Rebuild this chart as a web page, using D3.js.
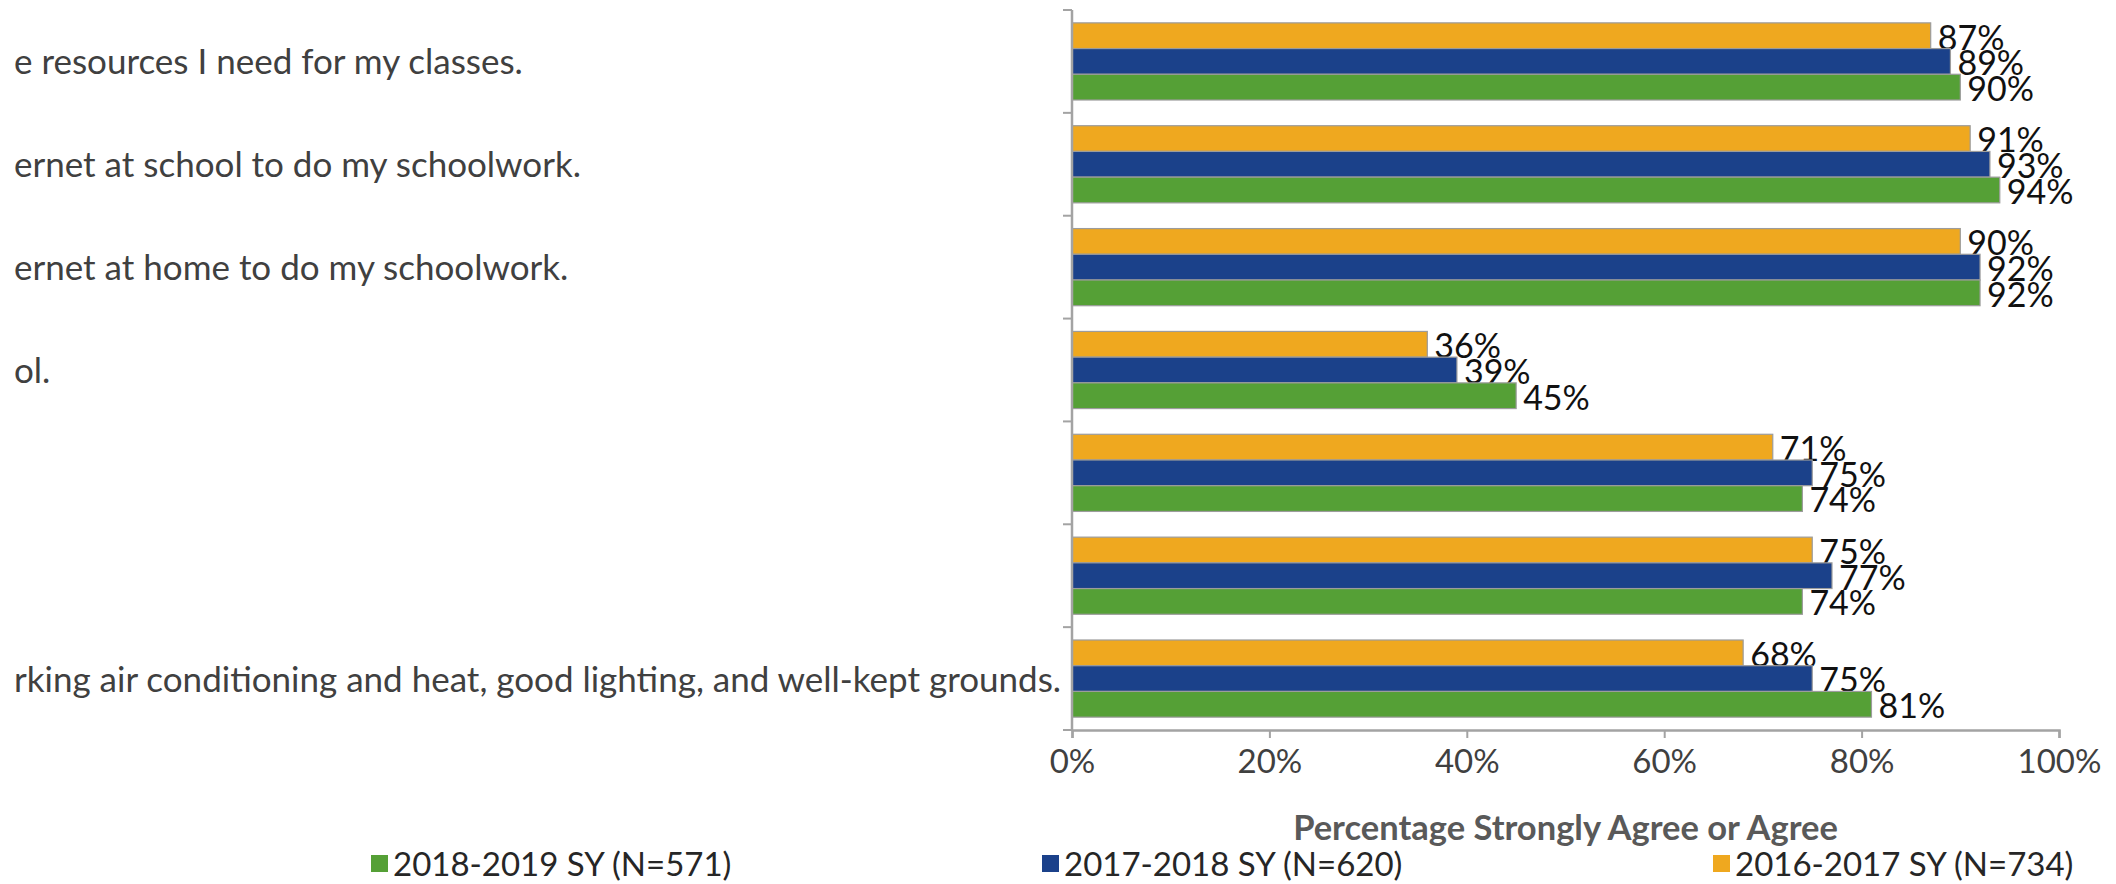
<!DOCTYPE html>
<html>
<head>
<meta charset="utf-8">
<script src="https://cdn.jsdelivr.net/npm/d3@7"></script>
<style>
  html, body { margin: 0; padding: 0; background: #ffffff; }
  svg { display: block; }
  text { font-family: Lato, "Open Sans", sans-serif; }
</style>
</head>
<body>
<svg id="chart" width="2116" height="884"></svg>
<script>
// ---- data ----
// category labels as visible in the (cropped) reference, top to bottom
const categoryLabels = [
  "e resources I need for my classes.",
  "ernet at school to do my schoolwork.",
  "ernet at home to do my schoolwork.",
  "ol.",
  "",
  "",
  "rking air conditioning and heat, good lighting, and well-kept grounds."
];
const seriesNames = ["2016-2017 SY (N=734)", "2017-2018 SY (N=620)", "2018-2019 SY (N=571)"];
const values2016 = [87, 91, 90, 36, 71, 75, 68];
const values2017 = [89, 93, 92, 39, 75, 77, 75];
const values2018 = [90, 94, 92, 45, 74, 74, 81];
const xTicks = [0, 20, 40, 60, 80, 100];
const legendOrder = ["2018-2019 SY (N=571)", "2017-2018 SY (N=620)", "2016-2017 SY (N=734)"];
const xAxisTitle = "Percentage Strongly Agree or Agree";

// ---- styles / layout ----
const colors = {
  "2016-2017 SY (N=734)": "#EFA81F",
  "2017-2018 SY (N=620)": "#1B418A",
  "2018-2019 SY (N=571)": "#55A036"
};
const margin = { left: 1072, right: 57, top: 10, bottom: 154 };
const W = 2116, H = 884;

const svg = d3.select("#chart");
svg.append("rect").attr("width", W).attr("height", H).attr("fill", "#fff");

const seriesValues = [values2016, values2017, values2018];
const catIdx = d3.range(categoryLabels.length);

const x = d3.scaleLinear().domain([0, 100]).range([margin.left, W - margin.right]);
const y = d3.scaleBand().domain(catIdx).range([margin.top, H - margin.bottom])
  .paddingInner(0.25).paddingOuter(0.125);
const ySub = d3.scaleBand().domain(seriesNames).range([0, y.bandwidth()]);

const step = y.step();
const plotTop = margin.top, plotBottom = H - margin.bottom;

// bars
const g = svg.append("g");
catIdx.forEach(ci => {
  seriesNames.forEach((s, si) => {
    const v = seriesValues[si][ci];
    const by = y(ci) + ySub(s);
    g.append("rect")
      .attr("x", x(0))
      .attr("y", by)
      .attr("width", x(v) - x(0))
      .attr("height", ySub.bandwidth())
      .attr("fill", colors[s])
      .attr("stroke", "#9c9c9c")
      .attr("stroke-width", 1.2);
    g.append("text")
      .attr("x", x(v) + 7)
      .attr("y", by + ySub.bandwidth() + 1)
      .attr("font-size", 34)
      .attr("fill", "#111")
      .text(v + "%");
  });
});

// y axis line + ticks at category boundaries
const axisColor = "#a3a3a3";
svg.append("line")
  .attr("x1", x(0)).attr("x2", x(0))
  .attr("y1", plotTop).attr("y2", plotBottom)
  .attr("stroke", axisColor).attr("stroke-width", 2.5);
d3.range(categoryLabels.length + 1).forEach(i => {
  const ty = plotTop + i * step;
  svg.append("line")
    .attr("x1", x(0) - 9).attr("x2", x(0))
    .attr("y1", ty).attr("y2", ty)
    .attr("stroke", axisColor).attr("stroke-width", 2);
});

// category labels (visible fragments, left-aligned at the cropped edge)
svg.append("g").selectAll("text")
  .data(catIdx)
  .join("text")
  .attr("x", 14)
  .attr("y", d => y(d) + y.bandwidth() / 2 + 13)
  .attr("font-size", 35)
  .attr("fill", "#404040")
  .text(d => categoryLabels[d]);

// x axis
const xAxis = d3.axisBottom(x).tickValues(xTicks).tickFormat(d => d + "%")
  .tickSize(8).tickPadding(12);
const xg = svg.append("g").attr("transform", `translate(0,${plotBottom})`).call(xAxis);
xg.select(".domain").attr("stroke", axisColor).attr("stroke-width", 2.5);
xg.selectAll(".tick line").attr("stroke", axisColor).attr("stroke-width", 2);
xg.selectAll(".tick text")
  .attr("font-size", 33)
  .attr("font-family", "Lato, 'Open Sans', sans-serif")
  .attr("fill", "#404040");

// axis title
svg.append("text")
  .attr("x", (x(0) + x(100)) / 2)
  .attr("y", 840)
  .attr("text-anchor", "middle")
  .attr("font-size", 34.5)
  .attr("font-weight", "bold")
  .attr("fill", "#595959")
  .text(xAxisTitle);

// legend
const lx = d3.scalePoint().domain(legendOrder).range([371, 1713]);
const lg = svg.append("g").selectAll("g").data(legendOrder).join("g")
  .attr("transform", d => `translate(${lx(d)},0)`);
lg.append("rect").attr("x", 0).attr("y", 855).attr("width", 17).attr("height", 17)
  .attr("fill", d => colors[d]);
lg.append("text").attr("x", 22).attr("y", 876)
  .attr("font-size", 33).attr("fill", "#262626")
  .text(d => d);
</script>
</body>
</html>
